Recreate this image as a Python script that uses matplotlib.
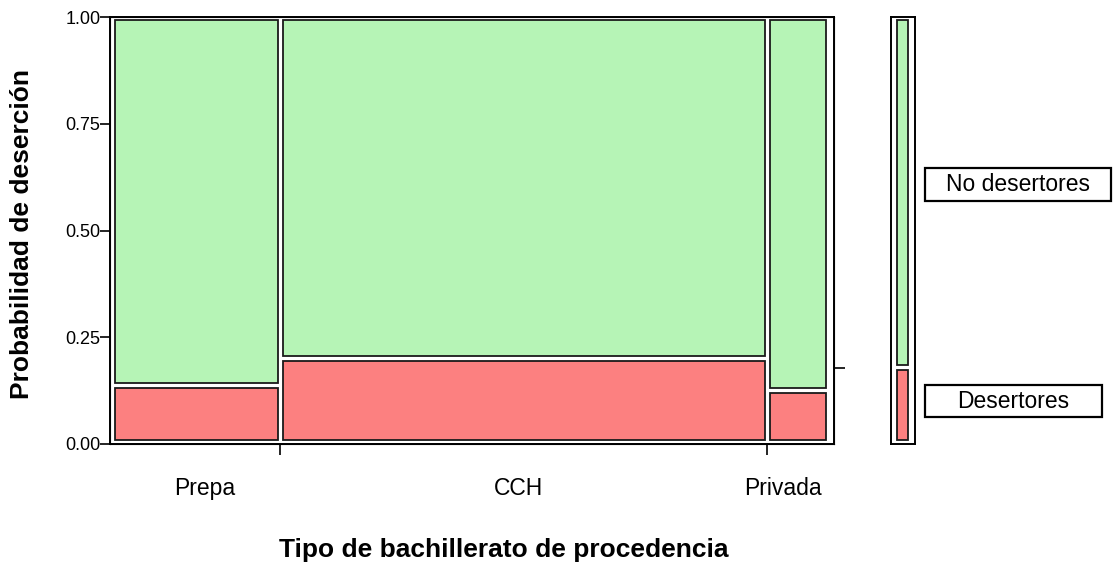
#!/usr/bin/env python3
'''
mosaic plot: probabilidad de desercion por tipo de bachillerato
'''
import numpy as np
import matplotlib
matplotlib.use('Agg')
import matplotlib.pyplot as plt
from matplotlib.patches import Rectangle

plt.rcParams['font.family'] = ['Liberation Sans', 'DejaVu Sans']

# data
categories = ['Prepa', 'CCH', 'Privada']
share = [0.235, 0.673, 0.092]          # fraction of students per category (column widths)
desert = [0.138, 0.200, 0.126]         # fraction of desertores inside each category
label_x = [0.131, 0.564, 0.929]        # where the category names sit on the x axis
legend_names = ['No desertores', 'Desertores']

green = '#b6f4b6'
red = '#fc8080'

share = np.array(share)
desert = np.array(desert)
overall = float(np.sum(share * desert))  # marginal proportion for the side bar

W, H = 1113, 569
fig = plt.figure(figsize=(W / 100, H / 100), dpi=100)

def fx(px):
    return px / W

def fy(px):
    return 1 - px / H

# main mosaic
ax = fig.add_axes([fx(110), fy(444), fx(724), 427 / H])
ax.set_xlim(0, 1)
ax.set_ylim(0, 1)

gx = 2.5 / 724   # gap around each cell, in data units
gy = 2.5 / 427
ox_l, ox_r = 2.5 / 724, 5.5 / 724   # extra white margin next to the spines
oy_b, oy_t = 1.5 / 427, 0.5 / 427

left = np.concatenate([[0], np.cumsum(share)[:-1]])
n = len(share)
for i, (x0, w, p) in enumerate(zip(left, share, desert)):
    xa = x0 + gx + (ox_l if i == 0 else 0)
    xb = x0 + w - gx - (ox_r if i == n - 1 else 0)
    # desertores (bottom)
    ax.add_patch(Rectangle((xa, gy + oy_b), xb - xa, p - 2 * gy - oy_b,
                           facecolor=red, edgecolor='#1a1a1a', lw=1.3))
    # no desertores (top)
    ax.add_patch(Rectangle((xa, p + gy), xb - xa, 1 - p - 2 * gy - oy_t,
                           facecolor=green, edgecolor='#1a1a1a', lw=1.3))

for s in ax.spines.values():
    s.set_linewidth(1.4)

ax.set_yticks([0, 0.25, 0.5, 0.75, 1.0])
ax.set_yticklabels(['0.00', '0.25', '0.50', '0.75', '1.00'])
ax.tick_params(axis='y', length=7, width=1.2, pad=0, labelsize=13)

# boundaries between categories as major ticks, names as minor ticks
ax.set_xticks(np.cumsum(share)[:-1])
ax.set_xticklabels([])
ax.tick_params(axis='x', which='major', length=8, width=1.2)
ax.set_xticks(label_x, minor=True)
ax.set_xticklabels(categories, minor=True)
ax.tick_params(axis='x', which='minor', length=0, pad=24, labelsize=16.5)

# overall proportion tick on the right spine
ax2 = ax.twinx()
ax2.set_ylim(0, 1)
ax2.set_yticks([overall])
ax2.set_yticklabels([])
ax2.tick_params(axis='y', length=8, width=1.2)

# side bar with marginal proportions
bx = fig.add_axes([fx(891), fy(444), fx(24), 427 / H])
bx.set_xlim(0, 1)
bx.set_ylim(0, 1)
bx.set_xticks([])
bx.set_yticks([])
for s in bx.spines.values():
    s.set_linewidth(1.4)
bx.add_patch(Rectangle((0.25, gy + oy_b), 0.46, overall - 2 * gy - oy_b,
                       facecolor=red, edgecolor='#1a1a1a', lw=1.3))
bx.add_patch(Rectangle((0.25, overall + gy), 0.46, 1 - overall - 2 * gy - oy_t,
                       facecolor=green, edgecolor='#1a1a1a', lw=1.3))

# legend boxes
boxes = [(925, 168, 186, 33), (925, 385, 177, 32)]
for name, (x, y, w, h) in zip(legend_names, boxes):
    fig.add_artist(Rectangle((fx(x), fy(y + h)), fx(w), h / H,
                             transform=fig.transFigure, facecolor='white',
                             edgecolor='black', lw=1.6))
    fig.text(fx(x + w / 2), fy(y + h / 2), name, ha='center', va='center',
             fontsize=16.5)

# axis titles
fig.text(fx(503.5), fy(557), 'Tipo de bachillerato de procedencia',
         ha='center', va='baseline', fontsize=19, fontweight='bold')
fig.text(fx(22), fy(234), 'Probabilidad de deserción', rotation=90,
         ha='center', va='center', fontsize=19, fontweight='bold')

fig.savefig('out.png', dpi=100)
